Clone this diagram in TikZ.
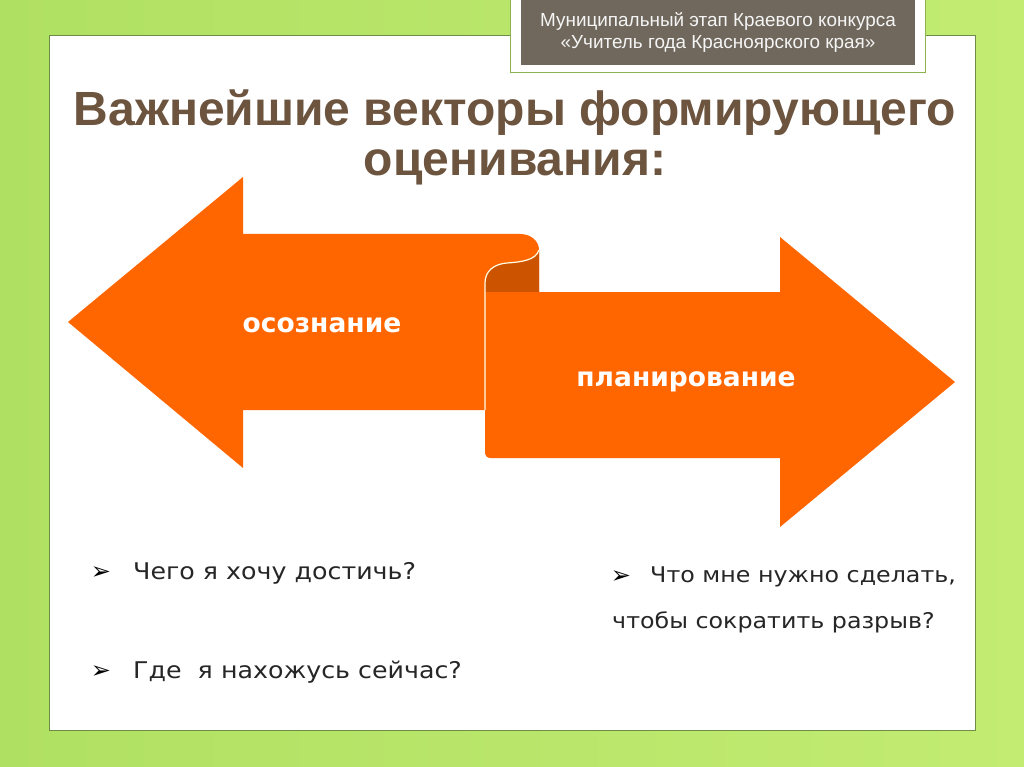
\documentclass[tikz,border=0pt]{standalone}
\usepackage{fontspec}
\setmainfont{Liberation Sans}
\newfontfamily\bodyfont[FakeStretch=1.1]{DejaVu Sans}
\newfontfamily\markfont{DejaVu Sans}
\newfontfamily\titlefont{Liberation Sans}
\usetikzlibrary{calc}
\definecolor{bgA}{RGB}{176,224,98}
\definecolor{bgB}{RGB}{194,236,114}
\definecolor{hdr}{RGB}{112,104,92}
\definecolor{ttl}{RGB}{108,84,62}
\definecolor{org}{RGB}{255,102,0}
\definecolor{orgdark}{RGB}{204,84,0}
\definecolor{frame}{RGB}{110,140,70}
\tikzset{
  titletext/.style={font=\titlefont\bfseries\fontsize{48}{53}\selectfont, text=ttl, align=center},
  hdrtext/.style={font=\titlefont\fontsize{18.9}{22}\selectfont, text=white!92!gray, align=center},
  arrowlabel/.style={font=\markfont\bfseries\fontsize{26.5}{30}\selectfont, text=white},
  bullettext/.style={font=\bodyfont\fontsize{23}{26}\selectfont, text=black!85, anchor=west, inner sep=0pt},
  bullettextr/.style={bullettext, font=\bodyfont\fontsize{21.6}{26}\selectfont},
  bulletmark/.style={font=\markfont\fontsize{24}{26}\selectfont, text=black, inner sep=0pt},
  ribbon/.style={fill=org},
  edge/.style={draw=white!90!yellow, line width=1.2pt}
}
\begin{document}
\begin{tikzpicture}[x=1pt,y=-1pt]
\useasboundingbox (0,0) rectangle (1024,767);
% background
\shade[left color=bgA, right color=bgB] (0,0) rectangle (1024,767);
% white panel
\fill[white] (49,35) rectangle (975,730);
\draw[frame, line width=0.8pt] (49,35) rectangle (975,730);
% header
\fill[white] (510,-2) rectangle (925,72);
\draw[bgA!80!black, line width=0.8pt] (510,-2) rectangle (925,72);
\fill[hdr] (521,-2) rectangle (915,65);
\node[hdrtext] (hdr) at (718,32) {Муниципальный этап Краевого конкурса\\«Учитель года Красноярского края»};
% title
\node[titletext] (t1) at (515,113) {Важнейшие векторы формирующего};
\node[titletext] (t2) at (515,167) {оценивания:};
% left arrow
\fill[ribbon] (68,322) -- (243,177) -- (243,234) -- (520,234)
   .. controls (531,234) and (539,241) .. (539,250)
   -- (539,300) -- (485,300) -- (485,410) -- (243,410) -- (243,468) -- cycle;
% inner (dark) side of the curl
\fill[orgdark] (539,250) .. controls (536,260) and (522,262) .. (507,263)
   .. controls (494,264) and (485,271) .. (485,283)
   -- (485,292) -- (539,292) -- cycle;
% right arrow
\fill[ribbon] (485,283) -- (485,452) .. controls (485,456) and (487,458) .. (491,458)
   -- (780,458) -- (780,527) -- (955,382) -- (780,237) -- (780,292) -- (485,292) -- cycle;
% curl edge
\draw[edge] (539,250) .. controls (536,260) and (522,262) .. (507,263)
   .. controls (494,264) and (485,271) .. (485,283) -- (485,410);
% arrow labels
\node[arrowlabel] (l1) at (322,325) {осознание};
\node[arrowlabel] (l2) at (686,382) {планирование};
% bullets
\node[bulletmark] (b1) at (101,573) {➢};
\node[bullettext] (q1) at (133,573) {Чего я хочу достичь?};
\node[bulletmark] (b2) at (101,672) {➢};
\node[bullettext] (q2) at (133,672) {Где\ \ я нахожусь сейчас?};
\node[bulletmark] (b3) at (621,577) {➢};
\node[bullettextr] (q3) at (650,577) {Что мне нужно сделать,};
\node[bullettextr] (q4) at (612,622) {чтобы сократить разрыв?};
\end{tikzpicture}
\end{document}
